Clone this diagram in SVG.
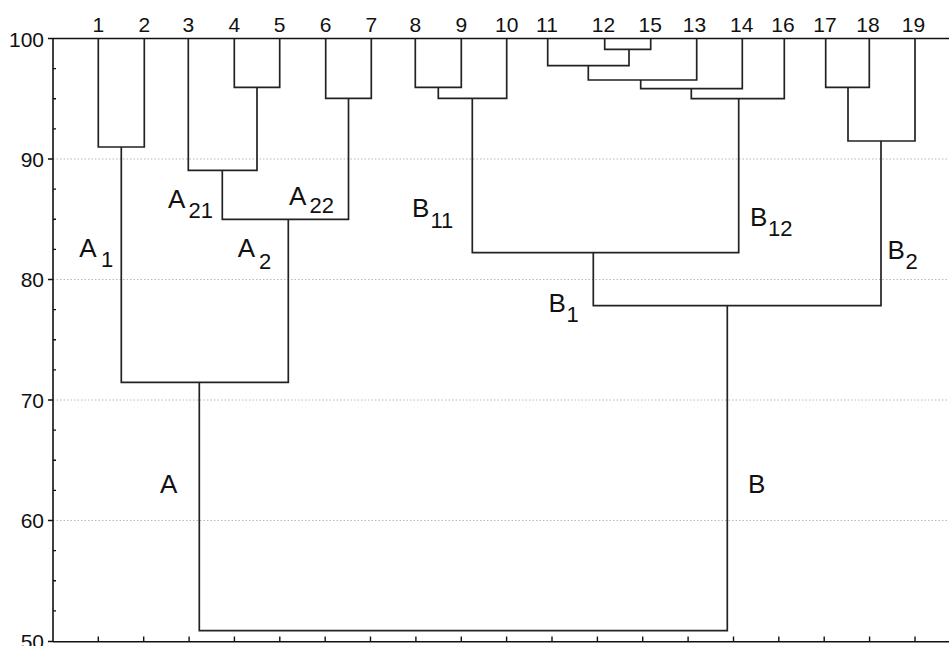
<svg xmlns="http://www.w3.org/2000/svg" width="949" height="646" viewBox="0 0 949 646">
<style>
  .axis { stroke: #111; stroke-width: 1.6; fill: none; }
  .tick { stroke: #111; stroke-width: 1.4; fill: none; }
  .grid { stroke: #b8b8b8; stroke-width: 1; stroke-dasharray: 1.5 2; fill: none; }
  .link { stroke: #222; stroke-width: 1.7; fill: none; }
  .num { font-family: "Liberation Sans", Arial, sans-serif; font-size: 21px; fill: #111; }
  .lab { font-family: "Liberation Sans", Arial, sans-serif; font-size: 26px; fill: #111; }
  .sub { font-size: 22px; }
</style>
<rect width="949" height="646" fill="#ffffff"/>

<g id="grid">
  <line class="grid" x1="53" y1="159" x2="949" y2="159"/>
  <line class="grid" x1="53" y1="279.5" x2="949" y2="279.5"/>
  <line class="grid" x1="53" y1="400" x2="949" y2="400"/>
  <line class="grid" x1="53" y1="520.5" x2="949" y2="520.5"/>
</g>

<g id="y-axis">
  <line class="axis" x1="53" y1="38.5" x2="53" y2="641.5"/>
  <path class="tick" d="M48 38.5H53 M48 159H53 M48 279.5H53 M48 400H53 M48 520.5H53 M48 641.5H53"/>
  <path class="tick" d="M53 68.6H56 M53 98.7H56 M53 128.9H56 M53 189.1H56 M53 219.2H56 M53 249.4H56 M53 309.6H56 M53 339.7H56 M53 369.9H56 M53 430.1H56 M53 460.2H56 M53 490.4H56 M53 550.6H56 M53 580.7H56 M53 610.9H56"/>
  <text class="num" x="44" y="46.5" text-anchor="end">100</text>
  <text class="num" x="44" y="166.7" text-anchor="end">90</text>
  <text class="num" x="44" y="287" text-anchor="end">80</text>
  <text class="num" x="44" y="407.5" text-anchor="end">70</text>
  <text class="num" x="44" y="528" text-anchor="end">60</text>
  <text class="num" x="44" y="648.7" text-anchor="end">50</text>
</g>

<g id="x-axis">
  <line class="axis" x1="53" y1="38.5" x2="949" y2="38.5"/>
  <line class="axis" x1="53" y1="641.7" x2="949" y2="641.7"/>
  <path class="tick" d="M98.3 636.5V641.7 M143.7 636.5V641.7 M189.1 636.5V641.7 M234.4 636.5V641.7 M279.8 636.5V641.7 M325.2 636.5V641.7 M370.5 636.5V641.7 M415.9 636.5V641.7 M461.3 636.5V641.7 M506.6 636.5V641.7 M552 636.5V641.7 M597.4 636.5V641.7 M642.7 636.5V641.7 M688.1 636.5V641.7 M733.5 636.5V641.7 M778.8 636.5V641.7 M824.2 636.5V641.7 M869.6 636.5V641.7 M915 636.5V641.7"/>
</g>

<g id="leaf-labels" class="num" text-anchor="middle">
  <text x="98.3" y="32.3">1</text>
  <text x="144.3" y="32.3">2</text>
  <text x="188.3" y="32.3">3</text>
  <text x="234.3" y="32.3">4</text>
  <text x="279.7" y="32.3">5</text>
  <text x="325.7" y="32.3">6</text>
  <text x="371.3" y="32.3">7</text>
  <text x="415.3" y="32.3">8</text>
  <text x="461.3" y="32.3">9</text>
  <text x="506.7" y="32.3">10</text>
  <text x="547" y="32.3">11</text>
  <text x="603.5" y="32.3">12</text>
  <text x="650.3" y="32.3">15</text>
  <text x="694.5" y="32.3">13</text>
  <text x="741.7" y="32.3">14</text>
  <text x="783" y="32.3">16</text>
  <text x="825" y="32.3">17</text>
  <text x="868" y="32.3">18</text>
  <text x="913.5" y="32.3">19</text>
</g>

<g id="connectors">
  <path class="link" d="M98.3 38.5V147H144.3V38.5"/>
  <path class="link" d="M234.3 38.5V87.3H279.7V38.5"/>
  <path class="link" d="M188.3 38.5V170.3H257V87.3"/>
  <path class="link" d="M325.7 38.5V98.3H371.3V38.5"/>
  <path class="link" d="M222.3 170.3V219.3H348.5V98.3"/>
  <path class="link" d="M121.3 147V382.3H288.3V219.3"/>
  <path class="link" d="M415.3 38.5V87.3H461.3V38.5"/>
  <path class="link" d="M438.3 87.3V98.3H506.7V38.5"/>
  <path class="link" d="M604.7 38.5V49.3H650.7V38.5"/>
  <path class="link" d="M547.7 38.5V65.7H629V49.3"/>
  <path class="link" d="M588.3 65.7V80H696.7V38.5"/>
  <path class="link" d="M640.7 80V88.7H742.3V38.5"/>
  <path class="link" d="M691.3 88.7V98.7H784.3V38.5"/>
  <path class="link" d="M472.3 98.3V252.7H738.7V98.7"/>
  <path class="link" d="M825.7 38.5V87.3H869.3V38.5"/>
  <path class="link" d="M848 87.3V141H915V38.5"/>
  <path class="link" d="M593.3 252.7V305.7H881V141"/>
  <path class="link" d="M199.3 382.3V630.7H727.3V305.7"/>
</g>

<g id="cluster-A"><text class="lab" x="160" y="492.7">A</text></g>
<g id="cluster-A1"><text class="lab" x="79.3" y="257.3">A<tspan class="sub" x="101" y="267.3">1</tspan></text></g>
<g id="cluster-A2"><text class="lab" x="237.7" y="256.7">A<tspan class="sub" x="259" y="269">2</tspan></text></g>
<g id="cluster-A21"><text class="lab" x="168" y="207.7">A<tspan class="sub" x="188.5" y="218.3">21</tspan></text></g>
<g id="cluster-A22"><text class="lab" x="289" y="205">A<tspan class="sub" x="309.5" y="213.3">22</tspan></text></g>
<g id="cluster-B"><text class="lab" x="748" y="492.7">B</text></g>
<g id="cluster-B1"><text class="lab" x="548.5" y="311.7">B<tspan class="sub" x="566.5" y="321.7">1</tspan></text></g>
<g id="cluster-B2"><text class="lab" x="887.5" y="259.3">B<tspan class="sub" x="905.5" y="269.3">2</tspan></text></g>
<g id="cluster-B11"><text class="lab" x="412" y="216.7">B<tspan class="sub" x="430.5" y="228.3">11</tspan></text></g>
<g id="cluster-B12"><text class="lab" x="750" y="225.7">B<tspan class="sub" x="768" y="236">12</tspan></text></g>
</svg>
